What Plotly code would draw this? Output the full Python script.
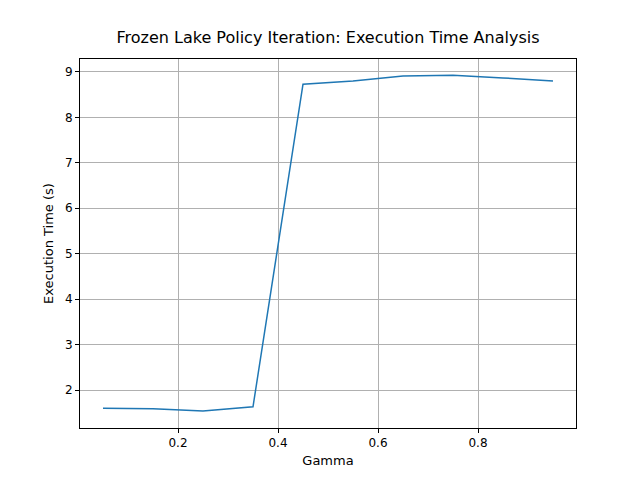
import plotly.graph_objects as go

gamma = [0.05, 0.15, 0.25, 0.35, 0.45, 0.55, 0.65, 0.75, 0.85, 0.95]
exec_time = [1.60, 1.59, 1.54, 1.63, 8.73, 8.80, 8.91, 8.93, 8.87, 8.80]

fig = go.Figure()
fig.add_trace(
    go.Scatter(
        x=gamma,
        y=exec_time,
        mode="lines",
        line=dict(color="#1f77b4", width=1.5),
    )
)

axis_common = dict(
    showline=True,
    linecolor="black",
    linewidth=1,
    mirror=True,
    showgrid=True,
    gridcolor="#b0b0b0",
    gridwidth=0.8,
    ticks="outside",
    ticklen=4,
    tickcolor="black",
    zeroline=False,
    tickfont=dict(size=12, color="black"),
)

fig.update_layout(
    width=640,
    height=480,
    paper_bgcolor="white",
    plot_bgcolor="white",
    font=dict(family="DejaVu Sans", color="black"),
    showlegend=False,
    title=dict(
        text="Frozen Lake Policy Iteration: Execution Time Analysis",
        x=0.5,
        xanchor="center",
        y=0.95,
        font=dict(size=16),
    ),
    margin=dict(l=72, r=72, t=51, b=60),
    xaxis=dict(
        axis_common,
        title=dict(text="Gamma", font=dict(size=13), standoff=6),
        range=[0.004, 0.996],
        tickvals=[0.2, 0.4, 0.6, 0.8],
        ticktext=["0.2", "0.4", "0.6", "0.8"],
    ),
    yaxis=dict(
        axis_common,
        title=dict(text="Execution Time (s)", font=dict(size=13), standoff=8),
        range=[1.164, 9.286],
        tickvals=[2, 3, 4, 5, 6, 7, 8, 9],
    ),
)

fig.write_html("out.html")
